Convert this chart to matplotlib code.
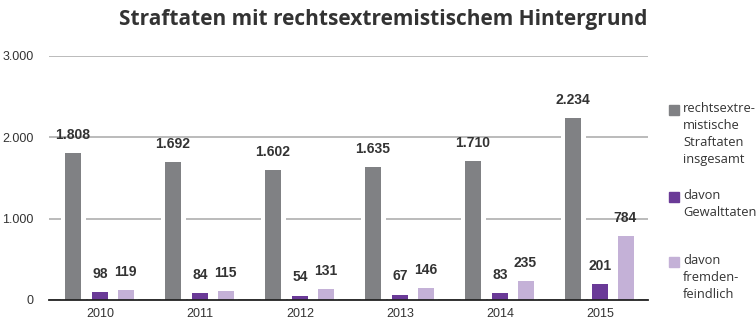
import matplotlib
matplotlib.use("Agg")
import matplotlib.pyplot as plt
from matplotlib.patches import Rectangle
import numpy as np

years = ["2010", "2011", "2012", "2013", "2014", "2015"]
total = [1808, 1692, 1602, 1635, 1710, 2234]
violent = [98, 84, 54, 67, 83, 201]
xenophobic = [119, 115, 131, 146, 235, 784]
series_labels = [
    "rechtsextre-\nmistische\nStraftaten\ninsgesamt",
    "davon\nGewalttaten",
    "davon\nfremden-\nfeindlich",
]
colors = ["#808184", "#6a3a97", "#c4b1d7"]
yticks = [0, 1000, 2000, 3000]
ytick_labels = ["0", "1.000", "2.000", "3.000"]

W, H = 756, 320
fig = plt.figure(figsize=(W / 100, H / 100), dpi=100)
ax = fig.add_axes([49 / W, 1 - 300 / H, (648 - 49) / W, (300 - 56) / H])

x = np.arange(len(years))
offsets = [-0.27, 0.0, 0.255]
bar_w = 0.16
for vals, off, col in zip([total, violent, xenophobic], offsets, colors):
    # white strip behind each bar breaks the gridlines
    ax.bar(x + off, vals, width=bar_w + 0.09, color="white", zorder=2)
    ax.bar(x + off, vals, width=bar_w, color=col, zorder=3)
    for xi, v in zip(x + off, vals):
        ax.annotate(f"{v:,}".replace(",", "."), (xi, v), textcoords="offset points",
                    xytext=(0, 8), ha="center", va="bottom", fontsize=10,
                    fontweight="bold", color="#333333", family="Liberation Sans", zorder=4)

ax.set_xlim(-0.51, 5.48)
ax.set_ylim(0, 3000)
ax.set_yticks(yticks)
ax.set_yticklabels(ytick_labels)
ax.set_xticks(x)
ax.set_xticklabels(years)
ax.tick_params(length=0, labelsize=9, labelcolor="#333333")
ax.tick_params(axis="y", pad=11)
ax.tick_params(axis="x", pad=6)
for lbl in ax.get_xticklabels() + ax.get_yticklabels():
    lbl.set_family("Liberation Sans")
ax.yaxis.grid(True, color="#a8a8a8", linewidth=1.1, zorder=1)
ax.set_axisbelow(True)
for s in ["top", "right", "left"]:
    ax.spines[s].set_visible(False)
ax.spines["bottom"].set_color("#222222")
ax.spines["bottom"].set_linewidth(1.3)
ax.spines["bottom"].set_zorder(5)

fig.text(383 / W, 1 - 20 / H, "Straftaten mit rechtsextremistischem Hintergrund",
         ha="center", va="center", fontsize=15, fontweight="bold",
         family="Open Sans", color="#333333")

# legend drawn by hand: square plus wrapped label
legend_tops = [105, 192, 257]
for top, col, lbl in zip(legend_tops, colors, series_labels):
    fig.add_artist(Rectangle((669 / W, 1 - (top + 10) / H), 10 / W, 10 / H,
                             transform=fig.transFigure, color=col))
    fig.text(683 / W, 1 - (top - 3) / H, lbl, ha="left", va="top", fontsize=9.3,
             family="Open Sans", color="#333333", linespacing=1.4)

fig.savefig("out.png", dpi=100)
